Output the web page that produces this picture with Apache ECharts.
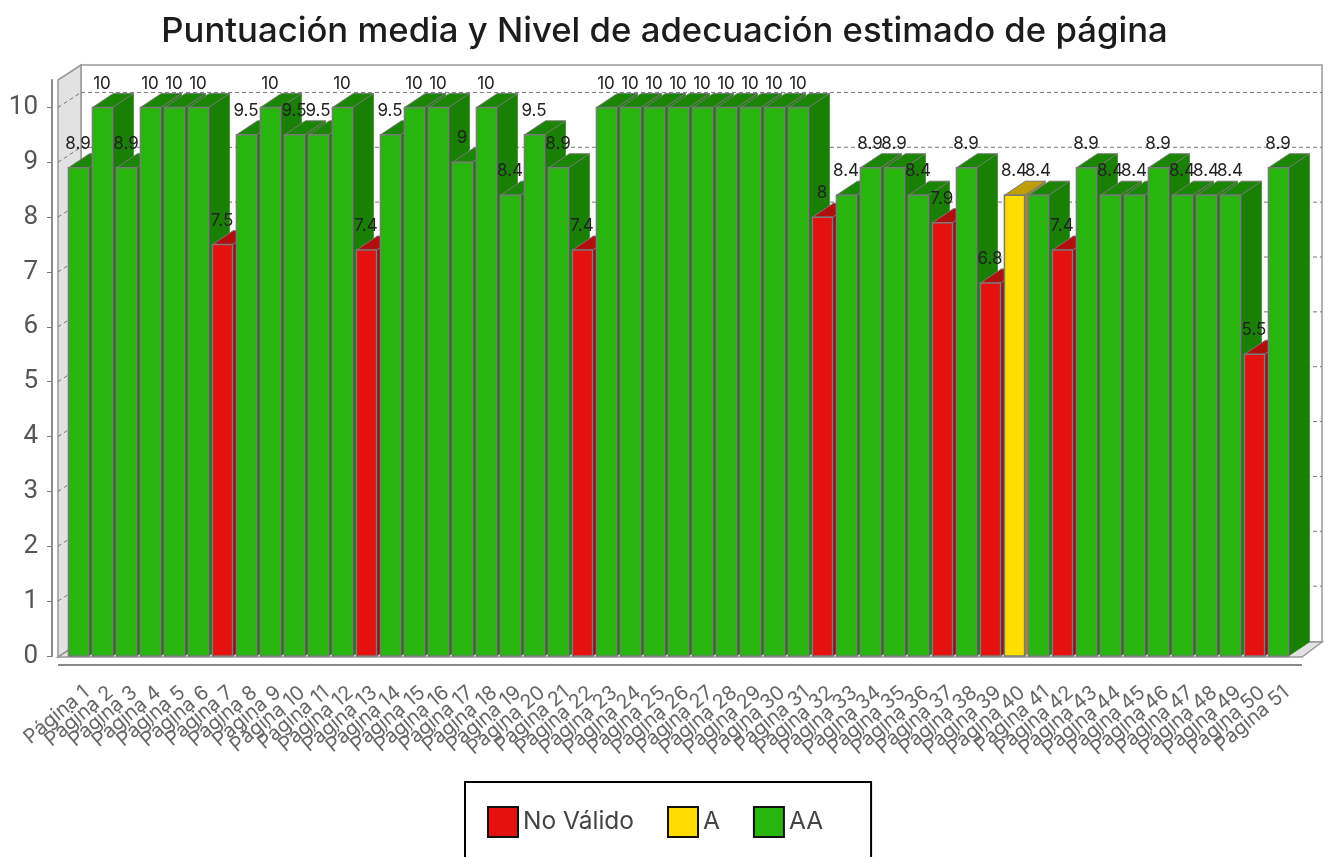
<!DOCTYPE html>
<html>
<head>
<meta charset="utf-8">
<style>html,body{margin:0;padding:0;background:#fff}#chart{width:1329px;height:857px}</style>
<script src="https://cdn.jsdelivr.net/npm/echarts@6/dist/echarts.min.js"></script>
</head>
<body>
<div id="chart"></div>
<script>
const scores = [8.9,10,8.9,10,10,10,7.5,9.5,10,9.5,9.5,10,7.4,9.5,10,10,9,10,8.4,9.5,8.9,7.4,10,10,10,10,10,10,10,10,10,8,8.4,8.9,8.9,8.4,7.9,8.9,6.8,8.4,8.4,7.4,8.9,8.4,8.4,8.9,8.4,8.4,8.4,5.5,8.9];
const categories = scores.map((_, i) => 'Página ' + (i + 1));
// paginas en nivel A / no valido, el resto son AA
const noValido = [7,13,22,32,37,39,42,50];
const nivelA = [40];
const yTicks = [0,1,2,3,4,5,6,7,8,9,10];

const depthX = 21, depthY = -14;
const palette = {
  'No Válido': { front: '#e3120f', top: '#b00f0c', side: '#8f100c' },
  'A': { front: '#ffdd00', top: '#bd9f08', side: '#a08c28' },
  'AA': { front: '#27b50e', top: '#1b8603', side: '#1a7f05' },
};

function levelData(name) {
  const res = [];
  scores.forEach((v, i) => {
    const page = i + 1;
    let level = 'AA';
    if (noValido.includes(page)) level = 'No Válido';
    if (nivelA.includes(page)) level = 'A';
    if (level === name) res.push([i, v]);
  });
  return res;
}

function renderBar(name) {
  const c = palette[name];
  return (params, api) => {
    const i = api.value(0);
    const top = api.coord([i, api.value(1)]);
    const base = api.coord([i, 0]);
    const w = api.size([1, 0])[0] * 0.84;
    const l = top[0] - w / 2 + 0.5, r = top[0] + w / 2 + 0.5;
    return {
      type: 'group',
      children: [
        { type: 'polygon', z2: i, shape: { points: [[r, top[1]], [r + depthX, top[1] + depthY], [r + depthX, base[1] + depthY], [r, base[1]]] }, style: { fill: c.side, stroke: c.side, lineWidth: 0.5 } },
        { type: 'polygon', z2: i, shape: { points: [[l, top[1]], [l + depthX, top[1] + depthY], [r + depthX, top[1] + depthY], [r, top[1]]] }, style: { fill: c.top, stroke: '#777', lineWidth: 1 } },
        { type: 'rect', z2: i, shape: { x: l, y: top[1], width: w, height: base[1] - top[1] }, style: { fill: c.front, stroke: '#7a7a7a', lineWidth: 1.5 } },
      ],
    };
  };
}

function renderFrame(params, api) {
  const g = params.coordSys;
  const dx = 23, dy = -15;
  const x0 = g.x - 8, x1 = g.x - 8 + dx, x2 = g.x + g.width + 32, x3 = g.x + g.width + 12;
  const y0 = g.y + g.height + 1, yTop = g.y;
  const border = { stroke: '#999', lineWidth: 1.5 };
  const children = [
    { type: 'polygon', shape: { points: [[x1, yTop + dy], [x2, yTop + dy], [x2, y0 + dy], [x1, y0 + dy]] }, style: { fill: '#fff', ...border } },
    { type: 'polygon', shape: { points: [[x0, yTop], [x1, yTop + dy], [x1, y0 + dy], [x0, y0]] }, style: { fill: '#e2e2e2', ...border } },
    { type: 'polygon', shape: { points: [[x0, y0], [x1, y0 + dy], [x2, y0 + dy], [x3, y0]] }, style: { fill: '#e2e2e2', ...border } },
    { type: 'line', shape: { x1: x0, y1: y0 + 8, x2: x3, y2: y0 + 8 }, style: { stroke: '#8a8a8a', lineWidth: 2 } },
  ];
  yTicks.slice(1).forEach(t => {
    const y = api.coord([0, t])[1];
    const dash = { stroke: '#777', lineWidth: 1, lineDash: [4, 3] };
    children.push({ type: 'line', shape: { x1: x0, y1: y, x2: x1, y2: y + dy }, style: dash });
    children.push({ type: 'line', shape: { x1: x1, y1: y + dy, x2: x2, y2: y + dy }, style: dash });
  });
  return { type: 'group', children };
}

function renderLabel(params, api) {
  const p = api.coord([api.value(0), api.value(1)]);
  return {
    type: 'text',
    style: {
      x: p[0], y: p[1] - 24, text: String(api.value(1)),
      fill: '#222', font: '17px Inter', align: 'center', verticalAlign: 'middle',
    },
  };
}

const levels = ['No Válido', 'A', 'AA'];
const chart = echarts.init(document.getElementById('chart'), null, { renderer: 'canvas' });
chart.setOption({
  animation: false,
  title: {
    text: 'Puntuación media y Nivel de adecuación estimado de página',
    left: 'center', top: 9,
    textStyle: { fontFamily: 'Inter', fontWeight: 500, fontSize: 34.7, color: '#1c1c1c' },
  },
  legend: {
    data: levels,
    left: 465, top: 782,
    padding: [24, 48, 40, 22],
    borderColor: '#000', borderWidth: 2,
    itemWidth: 30, itemHeight: 30, itemGap: 33,
    icon: 'rect', selectedMode: false,
    itemStyle: { borderColor: '#111', borderWidth: 2 },
    textStyle: { fontFamily: 'Inter', fontSize: 24.5, color: '#444' },
  },
  grid: { left: 66, right: 39, top: 80, bottom: 201 },
  xAxis: {
    type: 'category', data: categories, offset: 8,
    axisLine: { lineStyle: { color: '#8a8a8a', width: 2 } },
    axisTick: { alignWithLabel: true, interval: 0, length: 5, lineStyle: { color: '#777' } },
    axisLabel: { interval: 0, rotate: 40, margin: 16, verticalAlign: 'top', lineHeight: 26, fontFamily: 'Inter', fontSize: 20, color: '#666' },
  },
  yAxis: {
    type: 'value', min: 0, max: 10.5, interval: 1, offset: 14,
    axisLine: { show: true, lineStyle: { color: '#8a8a8a', width: 2 } },
    axisTick: { show: true, length: 5, customValues: yTicks, lineStyle: { color: '#777' } },
    axisLabel: { margin: 14, fontFamily: 'Roboto', fontSize: 26, color: '#555', customValues: yTicks },
    splitLine: { show: false },
  },
  series: [
    { type: 'custom', name: 'frame', z: 1, silent: true, clip: false, data: [[0, 0]], renderItem: renderFrame },
    ...levels.map(name => ({
      type: 'custom', name, z: 2, silent: true, clip: false,
      itemStyle: { color: palette[name].front },
      data: levelData(name), renderItem: renderBar(name),
    })),
    { type: 'custom', name: 'labels', z: 5, silent: true, clip: false, data: scores.map((v, i) => [i, v]), renderItem: renderLabel },
  ],
});
</script>
</body>
</html>
